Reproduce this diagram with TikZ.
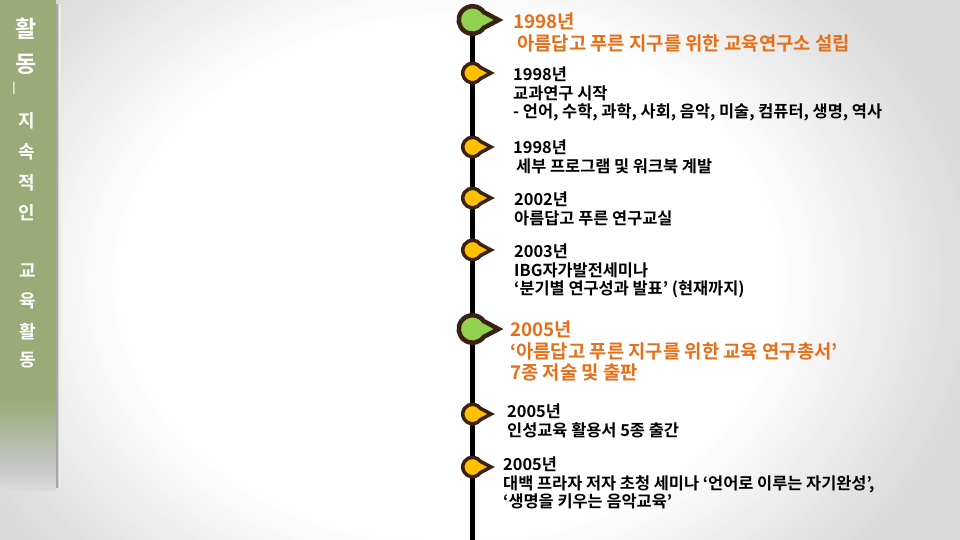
\documentclass[tikz,border=0pt]{standalone}
\usepackage{fontspec}
\setmainfont{Noto Sans CJK KR}[BoldFont=* Bold]
\usetikzlibrary{calc}

\definecolor{sidegreen}{RGB}{154,171,120}
\definecolor{pinbrown}{RGB}{59,33,18}
\definecolor{pingreen}{RGB}{146,208,80}
\definecolor{pinyellow}{RGB}{255,192,0}
\definecolor{titleorange}{RGB}{230,112,25}

\newcommand*{\lineX}{472.5}
\newcommand*{\bigR}{13.75}
\newcommand*{\smallR}{9.75}

% marker: name, y, radius, style
\newcommand*{\pin}[4]{%
	\coordinate (#1) at (\lineX,#2);
	\draw[#4] ($(#1)+(1.9*#3,0)$) -- ($(#1)+(35:#3)$) arc[start angle=-35,end angle=-325,radius=#3 pt] -- cycle;
}

\begin{document}
\begin{tikzpicture}
[
	x=1pt,y=-1pt,
	bigpin/.style={draw=pinbrown,line width=4.5pt,fill=pingreen},
	smallpin/.style={draw=pinbrown,line width=3.5pt,fill=pinyellow},
	timeline/.style={black,line width=5pt},
	evtitle/.style={anchor=north west,inner sep=0pt,align=left,text=titleorange,font=\bfseries\fontsize{18.8}{21.5}\selectfont},
	evtext/.style={anchor=north west,inner sep=0pt,align=left,font=\bfseries\fontsize{16.4}{18.5}\selectfont},
	sidetext/.style={text=white,inner sep=0pt,font=\bfseries\fontsize{18}{18}\selectfont},
	sidehead/.style={sidetext,font=\bfseries\fontsize{23}{23}\selectfont}
]

	\useasboundingbox (0,0) rectangle (960,540);

	% background
	\begin{scope}
		\clip (0,0) rectangle (960,540);
		\fill[black!15] (0,0) rectangle (960,540);
		\foreach \k [evaluate=\k as \shadeval using \k/2] in {30,29,...,0}
			\fill[black!\shadeval] (450,280) ellipse [x radius={330pt+7pt*\k},y radius={0.79*(330pt+7pt*\k)}];
	\end{scope}

	% side bar
	\fill[sidegreen] (0,0) rectangle (56,400);
	\shade[top color=sidegreen,bottom color=black!22] (0,400) rectangle (56,468);
	\shade[top color=black!22,bottom color=black!14] (0,468) rectangle (56,490);
	\draw[black!35,line width=1.5pt] (57,4) -- (57,488);
	\draw[black!18,line width=1.5pt] (58.5,4) -- (58.5,488);
	\draw[black!8,line width=1.5pt] (60,4) -- (60,488);

	\node[sidehead] (h1) at (26,29) {활};
	\node[sidehead] (h2) at (26,64) {동};
	\node[sidetext,font=\bfseries\fontsize{11}{11}\selectfont] (hdash) at (14,88) {|};
	\node[sidetext] (s1) at (27,121) {지};
	\node[sidetext] (s2) at (27,152) {속};
	\node[sidetext] (s3) at (27,183) {적};
	\node[sidetext] (s4) at (27,213) {인};
	\node[sidetext] (s5) at (28,271) {교};
	\node[sidetext] (s6) at (28,301) {육};
	\node[sidetext] (s7) at (28,332) {활};
	\node[sidetext] (s8) at (28,360) {동};

	% time line
	\coordinate (p1) at (\lineX,20);
	\coordinate (lineend) at (\lineX,540);
	\draw[timeline] (p1) -- (lineend);

	\pin{p1}{20}{\bigR}{bigpin}
	\pin{p2}{73}{\smallR}{smallpin}
	\pin{p3}{147}{\smallR}{smallpin}
	\pin{p4}{198}{\smallR}{smallpin}
	\pin{p5}{250}{\smallR}{smallpin}
	\pin{p6}{329}{\bigR}{bigpin}
	\pin{p7}{414}{\smallR}{smallpin}
	\pin{p8}{467}{\smallR}{smallpin}

	% events
	\node[evtitle] (ev1) at (513,13) {1998년\\\hspace{4pt}아름답고 푸른 지구를 위한 교육연구소 설립};
	\node[evtext] (ev2) at (513,67) {1998년\\교과연구 시작\\- 언어, 수학, 과학, 사회, 음악, 미술, 컴퓨터, 생명, 역사};
	\node[evtext] (ev3) at (513,140) {1998년\\\hspace{3pt}세부 프로그램 및 워크북 계발};
	\node[evtext] (ev4) at (514,192) {2002년\\아름답고 푸른 연구교실};
	\node[evtext] (ev5) at (514,244) {2003년\\IBG자가발전세미나\\‘분기별 연구성과 발표’ (현재까지)};
	\node[evtitle] (ev6) at (510,321) {2005년\\‘아름답고 푸른 지구를 위한 교육 연구총서’\\7종 저술 및 출판};
	\node[evtext] (ev7) at (507,404) {2005년\\인성교육 활용서 5종 출간};
	\node[evtext] (ev8) at (503,457) {2005년\\대백 프라자 저자 초청 세미나 ‘언어로 이루는 자기완성’,\\‘생명을 키우는 음악교육’};

\end{tikzpicture}
\end{document}
